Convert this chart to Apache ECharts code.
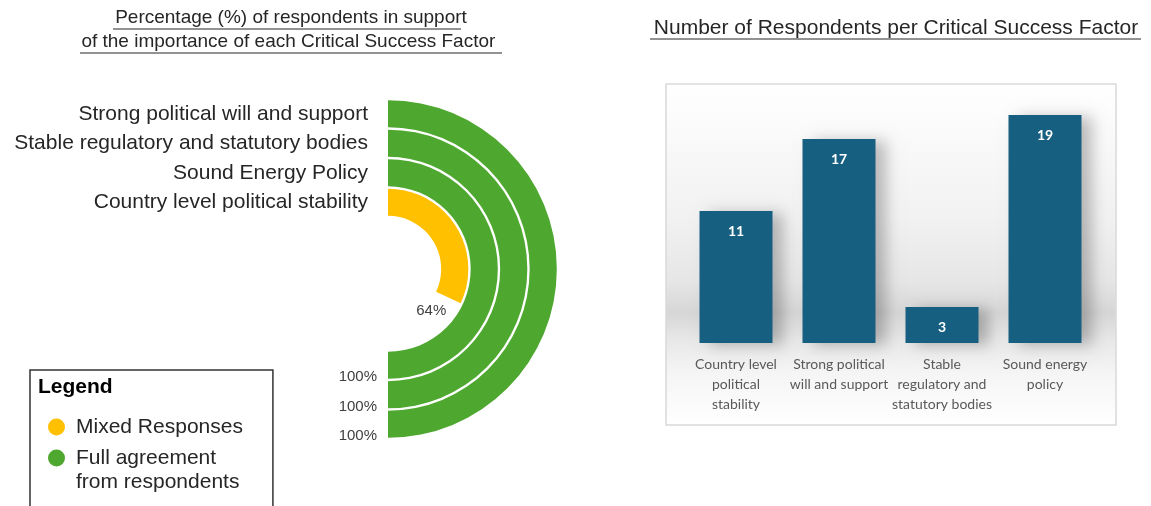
<!DOCTYPE html>
<html>
<head>
<meta charset="utf-8">
<script src="https://cdn.jsdelivr.net/npm/echarts@6/dist/echarts.min.js"></script>
<style>
  html, body { margin: 0; padding: 0; background: #fff; }
  #main { width: 1151px; height: 506px; }
</style>
</head>
<body>
<div id="main"></div>
<script>
// left: % of respondents per factor (inner ring -> outer ring)
var factors = ['Country level political stability', 'Sound Energy Policy', 'Stable regulatory and statutory bodies', 'Strong political will and support'];
var percents = [64, 100, 100, 100];
var responseType = ['Mixed Responses', 'Full agreement from respondents', 'Full agreement from respondents', 'Full agreement from respondents'];

// right: number of respondents
var barLabels = ['Country level\npolitical\nstability', 'Strong political\nwill and support', 'Stable\nregulatory and\nstatutory bodies', 'Sound energy\npolicy'];
var respondents = [11, 17, 3, 19];

var myChart = echarts.init(document.getElementById('main'));

function pick(type) {
    return percents.map(function (v, i) {
        return responseType[i] === type ? v : '-';
    });
}

var font = 'Arial, "Liberation Sans", sans-serif';

var option = {
    backgroundColor: '#fff',
    animation: false,
    title: [
        {
            text: 'Percentage (%) of respondents in support\nof the importance of each Critical Success Factor ',
            left: 291, top: 6, textAlign: 'center', padding: 0,
            textStyle: { fontFamily: font, fontSize: 19, fontWeight: 'normal', color: '#262626', lineHeight: 24, align: 'center' }
        },
        {
            text: 'Number of Respondents per Critical Success Factor',
            left: 896, top: 16, textAlign: 'center', padding: 0,
            textStyle: { fontFamily: font, fontSize: 21, fontWeight: 'normal', color: '#262626', lineHeight: 24 }
        },
        {
            text: 'Legend',
            left: 38, top: 377, padding: 0,
            textStyle: { fontFamily: font, fontSize: 21, fontWeight: 'bold', color: '#000' }
        }
    ],
    graphic: [
        { type: 'line', shape: { x1: 113, y1: 29, x2: 461, y2: 29 }, style: { stroke: '#262626', lineWidth: 1 } },
        { type: 'line', shape: { x1: 80, y1: 53, x2: 502, y2: 53 }, style: { stroke: '#262626', lineWidth: 1 } },
        { type: 'line', shape: { x1: 650, y1: 39, x2: 1141, y2: 39 }, style: { stroke: '#262626', lineWidth: 1 } },
        {
            type: 'rect', z: -10,
            shape: { x: 666, y: 84, width: 450, height: 341 },
            style: {
                stroke: '#d9d9d9', lineWidth: 1.5,
                fill: new echarts.graphic.LinearGradient(0, 0, 0, 1, [
                    { offset: 0, color: '#ffffff' },
                    { offset: 0.4, color: '#f1f1f1' },
                    { offset: 0.58, color: '#e6e6e6' },
                    { offset: 0.67, color: '#d6d6d6' },
                    { offset: 0.75, color: '#e8e8e8' },
                    { offset: 0.85, color: '#f5f5f5' },
                    { offset: 1, color: '#ffffff' }
                ])
            }
        }
    ],
    legend: {
        orient: 'vertical',
        left: 30, top: 370, height: 300,
        padding: [45, 30, 40, 18],
        borderColor: '#333', borderWidth: 1.5,
        icon: 'circle',
        itemWidth: 29, itemHeight: 17,
        itemGap: -17,
        textStyle: { fontFamily: font, fontSize: 21, color: '#262626', lineHeight: 24 },
        data: ['Mixed Responses', 'Full agreement from respondents'],
        formatter: function (name) {
            return name === 'Full agreement from respondents' ? '\nFull agreement\nfrom respondents' : name;
        }
    },
    polar: { center: [388, 269], radius: [52, 170] },
    angleAxis: {
        type: 'value', min: 0, max: 200, startAngle: 90, clockwise: true,
        axisLine: { show: false }, axisTick: { show: false }, axisLabel: { show: false }, splitLine: { show: false }
    },
    radiusAxis: {
        type: 'category', data: factors,
        axisLine: { show: false }, axisTick: { show: false }, splitLine: { show: false },
        axisLabel: { interval: 0, hideOverlap: false, fontFamily: font, fontSize: 21, color: '#262626', margin: 20 }
    },
    grid: { left: 684.5, top: 103, width: 412, height: 240 },
    xAxis: {
        type: 'category', data: barLabels,
        axisLine: { show: false }, axisTick: { show: false },
        axisLabel: { interval: 0, margin: 11, fontFamily: 'Lato, "Open Sans", sans-serif', fontSize: 14, color: '#595959', lineHeight: 20 }
    },
    yAxis: { type: 'value', min: 0, max: 20, show: false },
    series: [
        {
            name: 'Mixed Responses', type: 'bar', coordinateSystem: 'polar',
            data: pick('Mixed Responses'), barCategoryGap: '8%', barGap: '-100%',
            itemStyle: { color: '#ffc000' },
            label: { show: true, position: 'end', rotate: 0, align: 'right', verticalAlign: 'middle', offset: [0, 9], formatter: '{c}%', fontFamily: font, fontSize: 15, color: '#404040' }
        },
        {
            name: 'Full agreement from respondents', type: 'bar', coordinateSystem: 'polar',
            data: pick('Full agreement from respondents'), barCategoryGap: '8%', barGap: '-100%',
            itemStyle: { color: '#4ea72e' },
            label: { show: true, position: 'end', rotate: 0, align: 'right', verticalAlign: 'middle', offset: [-6, 12], formatter: '{c}%', fontFamily: font, fontSize: 15, color: '#404040' }
        },
        {
            name: 'Respondents', type: 'bar', data: respondents, barWidth: 73,
            itemStyle: {
                color: '#175f80',
                shadowColor: 'rgba(0,0,0,0.25)', shadowBlur: 14, shadowOffsetX: 10, shadowOffsetY: 2
            },
            label: { show: true, position: 'insideTop', distance: 13, fontFamily: 'Lato, sans-serif', fontWeight: 'bold', fontSize: 14, color: '#fff' }
        }
    ]
};
myChart.setOption(option);
</script>
</body>
</html>
